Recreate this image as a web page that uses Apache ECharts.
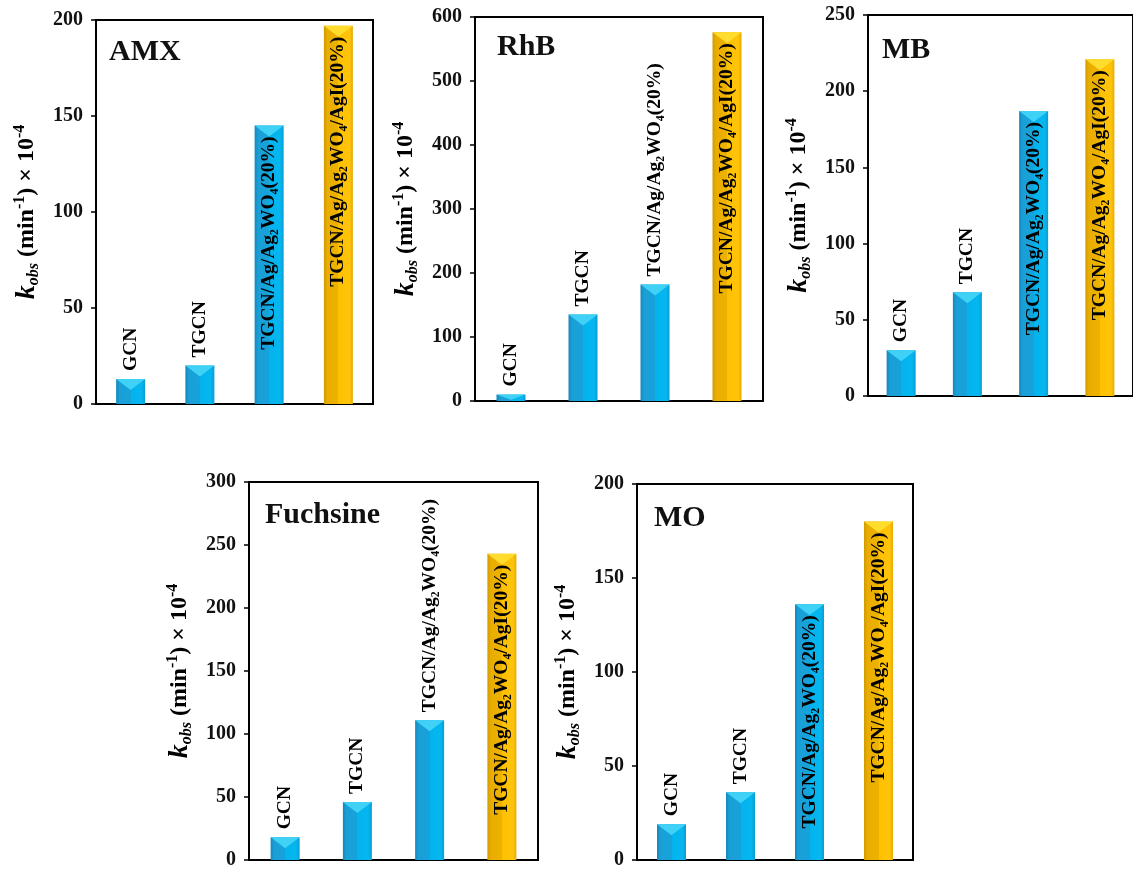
<!DOCTYPE html>
<html>
<head>
<meta charset="utf-8">
<script src="https://cdn.jsdelivr.net/npm/echarts@6/dist/echarts.min.js"></script>
<style>
  html, body { margin: 0; padding: 0; background: #fff; }
  #main { width: 1133px; height: 870px; }
</style>
</head>
<body>
<div id="main"></div>
<script>
// 数据
var categories = ['GCN', 'TGCN', 'TGCN/Ag/Ag₂WO₄(20%)', 'TGCN/Ag/Ag₂WO₄/AgI(20%)'];
var panelNames = ['AMX', 'RhB', 'MB', 'Fuchsine', 'MO'];
var amxValues = [13, 20, 145, 197];
var rhbValues = [10, 135, 182, 576];
var mbValues = [30, 68, 187, 221];
var fuchsineValues = [18, 46, 111, 243];
var moValues = [19, 36, 136, 180];
var yMax = [200, 600, 250, 300, 200];
var yStep = [50, 100, 50, 50, 50];
var panelValues = [amxValues, rhbValues, mbValues, fuchsineValues, moValues];

(function () {
  var myChart = echarts.init(document.getElementById('main'));
  var serif = '"Liberation Serif", "Times New Roman", serif';

  // 每个小图的位置
  var grids = [
    { left: 96, top: 20, width: 277, height: 384 },
    { left: 475, top: 17, width: 288, height: 384 },
    { left: 868, top: 15, width: 269, height: 381 },
    { left: 249, top: 482, width: 289, height: 385 },
    { left: 637, top: 484, width: 276, height: 383 }
  ];
  var titlePos = [
    { left: 109, top: 37 },
    { left: 497, top: 32 },
    { left: 882, top: 35 },
    { left: 265, top: 500 },
    { left: 654, top: 503 }
  ];

  var blueFill = new echarts.graphic.LinearGradient(0, 0, 1, 0, [
    { offset: 0, color: '#1587bd' },
    { offset: 0.12, color: '#1a9fd6' },
    { offset: 0.5, color: '#16a3da' },
    { offset: 0.5, color: '#02b3ee' },
    { offset: 0.88, color: '#06b6ef' },
    { offset: 1, color: '#0b9ccf' }
  ]);
  var goldFill = new echarts.graphic.LinearGradient(0, 0, 1, 0, [
    { offset: 0, color: '#d19a00' },
    { offset: 0.12, color: '#e8ad00' },
    { offset: 0.5, color: '#eeb200' },
    { offset: 0.5, color: '#ffc000' },
    { offset: 0.88, color: '#ffc40a' },
    { offset: 1, color: '#e6ab00' }
  ]);

  var option = {
    backgroundColor: '#fff',
    animation: false,
    title: [],
    grid: [],
    xAxis: [],
    yAxis: [],
    series: []
  };

  panelValues.forEach(function (vals, p) {
    var g = grids[p];
    option.grid.push({
      left: g.left, top: g.top, width: g.width, height: g.height,
      show: true, borderColor: '#000', borderWidth: 2
    });
    option.title.push({
      text: panelNames[p],
      left: titlePos[p].left,
      top: titlePos[p].top,
      padding: 0,
      textStyle: { fontFamily: serif, fontWeight: 'bold', fontSize: 30, color: '#111' }
    });
    option.xAxis.push({
      type: 'category',
      gridIndex: p,
      data: categories,
      axisLine: { lineStyle: { color: '#000', width: 2 } },
      axisTick: { show: false },
      axisLabel: { show: false }
    });
    option.yAxis.push({
      type: 'value',
      gridIndex: p,
      min: 0,
      max: yMax[p],
      interval: yStep[p],
      name: '{k|k}{s|obs} (min{p|-1}) × 10{p|-4}',
      nameLocation: 'middle',
      nameGap: 54,
      nameTextStyle: {
        fontFamily: serif, fontWeight: 'bold', fontSize: 24, color: '#000', lineHeight: 30,
        rich: {
          k: { fontFamily: serif, fontStyle: 'italic', fontWeight: 'bold', fontSize: 28, color: '#000' },
          s: { fontFamily: serif, fontStyle: 'italic', fontWeight: 'bold', fontSize: 16, color: '#000', verticalAlign: 'bottom', lineHeight: 16 },
          p: { fontFamily: serif, fontWeight: 'bold', fontSize: 16, color: '#000', verticalAlign: 'top', lineHeight: 16 }
        }
      },
      axisLine: { show: true, lineStyle: { color: '#000', width: 2 } },
      axisTick: { show: true, length: 5, lineStyle: { color: '#000', width: 1.5 } },
      axisLabel: { margin: 13, fontFamily: serif, fontWeight: 'bold', fontSize: 20, color: '#111' },
      splitLine: { show: false }
    });

    // 柱子
    option.series.push({
      type: 'bar',
      xAxisIndex: p, yAxisIndex: p,
      barWidth: 29, barGap: '-100%', z: 2,
      data: vals.map(function (v, i) {
        return { value: v, itemStyle: { color: i === 3 ? goldFill : blueFill } };
      })
    });
    // 柱顶的三角形（不超过柱子高度）
    option.series.push({
      type: 'pictorialBar',
      xAxisIndex: p, yAxisIndex: p,
      barWidth: 29, z: 3, silent: true,
      symbol: 'path://M0,0 L2,0 L1,1 Z',
      symbolPosition: 'end',
      data: vals.map(function (v, i) {
        var barPx = v / yMax[p] * g.height;
        return {
          value: v,
          symbolSize: [29, Math.min(11, barPx * 0.8)],
          itemStyle: { color: i === 3 ? '#ffdc2e' : '#3fd2f6' }
        };
      })
    });
    // 文字标签
    option.series.push({
      type: 'bar',
      xAxisIndex: p, yAxisIndex: p,
      barWidth: 29, barGap: '-100%', z: 4, silent: true,
      itemStyle: { color: 'rgba(0,0,0,0)' },
      data: vals.map(function (v, i) {
        var inside = v / yMax[p] > 0.5;
        return {
          value: v,
          label: {
            show: true,
            position: inside ? 'insideTop' : 'top',
            distance: inside ? 11 : 8,
            rotate: 90,
            align: inside ? 'right' : 'left',
            verticalAlign: 'middle',
            formatter: categories[i],
            fontFamily: serif, fontWeight: 'bold', fontSize: 19.5, color: '#000'
          }
        };
      })
    });
  });

  myChart.setOption(option);
  window.addEventListener('resize', function () {
    myChart.resize();
  });
})();
</script>
</body>
</html>
